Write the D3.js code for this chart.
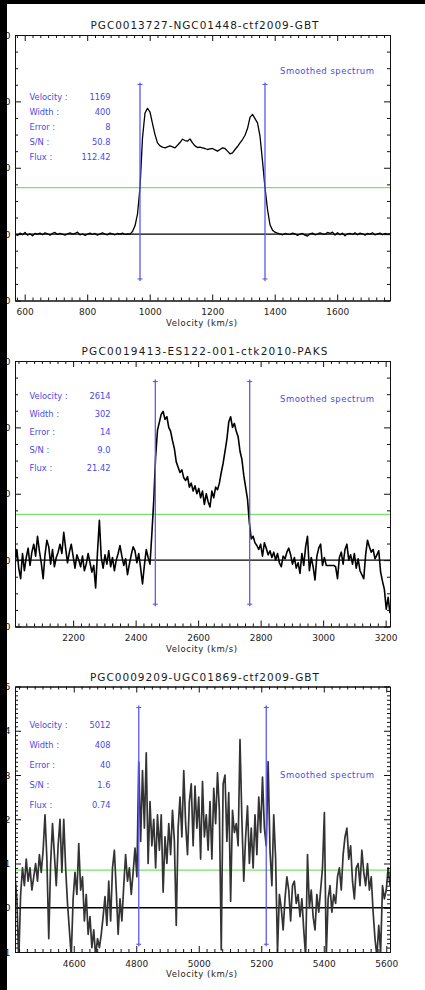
<!DOCTYPE html>
<html>
<head>
<meta charset="utf-8">
<script src="https://cdn.jsdelivr.net/npm/d3@7"></script>
<style>
  html, body { margin: 0; padding: 0; background: #fff; }
  svg { display: block; }
</style>
</head>
<body>
<svg id="chart" width="425" height="990"></svg>
<script>
// ---- spectra: channel start velocity (km/s), channel step (km/s), flux per channel ----
const titles = [
  "PGC0013727-NGC01448-ctf2009-GBT",
  "PGC0019413-ES122-001-ctk2010-PAKS",
  "PGC0009209-UGC01869-ctf2009-GBT"
];
const infoLabels = ["Velocity :", "Width :", "Error :", "S/N :", "Flux :"];
const velocities = [1169, 2614, 5012];
const widths = [400, 302, 408];
const errors = [8, 14, 40];
const snrs = ["50.8", "9.0", "1.6"];
const fluxes = ["112.42", "21.42", "0.74"];

const xRanges = [[569, 1769], [2014, 3214], [4412, 5612]];
const yRanges = [[-200, 600], [-50, 150], [-1, 5]];
const yMajorSteps = [200, 50, 1];
const yMinorSteps = [50, 12.5, 0.1];
const thresholds = [140, 34.5, 0.85];
const markerTops = [457, 136, 4.57];
const markerBottoms = [-141, -34.7, -0.87];

const chanStarts = [569, 2014, 4412];
const chanSteps = [8, 6, 6];

const spec1 = [
  2,-4,3,-2,5,-3,1,-5,2,0,
  3,-2,4,1,-3,2,5,-1,2,0,
  -3,1,4,0,2,6,-2,1,-4,0,
  3,-1,2,-3,1,4,0,-2,3,1,
  -2,2,0,3,-1,1,0,8,25,60,
  140,290,365,379,368,333,300,275,266,262,
  260,263,266,263,260,268,276,286,282,280,
  287,275,266,261,262,260,258,255,257,258,
  254,250,255,260,258,250,242,245,255,264,
  275,285,298,318,352,361,348,335,295,220,
  140,75,28,12,6,3,1,-2,2,0,
  -1,3,1,-4,0,2,-3,-6,1,3,
  -2,0,4,1,-1,5,2,6,-3,4,
  -2,3,-5,1,2,-1,4,-2,3,1,
  -3,2,0,4,-2,1,3,-2,2,0,1
];

const spec2 = [
  -3,8,-6,-14,5,-8,2,9,-4,6,
  12,3,18,7,-2,-14,4,15,10,-3,
  8,-5,2,6,12,5,21,9,-2,6,
  12,3,-6,4,0,-5,3,-8,-3,5,
  -2,-9,-4,-21,6,30,2,-6,4,-3,
  7,-5,2,-8,0,5,11,3,-4,1,
  -11,-3,4,10,7,-2,5,-6,-18,-4,
  8,2,-3,20,45,78,98,104,110,112,
  106,108,100,97,90,84,74,70,66,68,
  62,60,63,55,58,52,56,50,54,47,
  52,42,50,44,40,52,47,55,53,58,
  66,73,82,91,104,108,100,103,97,93,
  82,76,64,55,46,28,16,18,13,11,
  8,12,3,13,9,4,7,2,6,0,
  5,-2,-5,3,1,6,9,4,-3,2,
  -6,-2,-10,5,-4,10,18,-8,2,-5,
  -15,3,9,12,-4,2,-4,-4,-4,-4,
  -4,-5,-14,2,6,-3,8,12,0,4,
  -3,5,-6,1,-8,-11,-14,4,15,10,
  6,8,1,4,7,-9,-16,-22,-37,-28,
  -40
];

const spec3 = [
  0.7,0.2,-1.2,0.3,0.9,0.5,1.1,0.6,0.9,0.4,
  0.7,1.0,0.6,1.2,0.8,1.3,2.1,1.1,-0.7,1.0,
  1.9,1.2,0.5,1.4,2.0,0.8,2.0,0.9,0.1,-0.5,
  -1.1,0.2,0.8,0.3,1.45,0.4,0.7,-0.3,0.3,-0.6,
  -0.2,-0.9,-0.5,-1.1,-0.7,-0.9,-0.6,-0.2,0.25,-0.4,
  0.6,-0.3,0.9,1.3,0.4,-0.6,0.2,-0.3,0.5,1.2,
  0.6,0.9,0.3,0.8,1.35,0.7,3.3,1.5,3.1,1.8,
  3.5,1.0,2.4,1.4,2.0,0.9,2.1,1.3,2.1,0.35,
  1.6,1.0,1.9,1.2,2.2,1.5,-0.4,1.8,2.5,1.6,
  3.1,1.9,1.2,2.4,2.8,1.4,2.75,1.8,2.5,1.1,
  2.85,1.6,2.1,1.3,2.4,1.1,2.7,1.9,3.05,2.2,
  -0.95,2.8,3.0,1.5,2.6,0.15,2.2,1.7,1.9,1.4,
  3.8,2.0,0.6,1.6,2.3,1.0,1.8,0.9,2.1,1.2,
  2.5,1.7,2.95,1.8,1.4,3.3,1.3,0.5,2.1,1.1,
  -1.0,0.3,0.0,-0.5,0.2,0.7,0.4,-0.3,0.5,0.6,
  0.1,0.3,-0.2,0.2,-0.5,-1.1,1.2,0.0,0.4,-0.2,
  -0.5,0.3,-0.1,0.4,0.9,2.15,-1.1,0.2,0.5,-0.1,
  0.3,0.1,0.7,0.9,0.4,1.2,1.6,1.8,1.1,1.4,
  0.6,0.2,0.9,1.0,0.5,1.3,0.8,0.5,1.0,0.4,
  0.7,-0.1,-0.7,-1.1,-0.4,-1.0,0.5,0.2,0.4,0.9,
  0.5
];
const spectra = [spec1, spec2, spec3];

// ---- layout ----
const frameLeft = 15, frameRight = 390, frameH = 265.5;
const frameTops = [35, 361, 686.5];
const titleLengths = [228, 246, 229];
const infoFirst = [61.7, 34.7, 39];
const infoGap = [15, 18, 20];
const smoothedOffset = [35.7, 38, 89];
const specStroke = [{c: "#000", w: 1.3}, {c: "#000", w: 1.6}, {c: "#333", w: 1.7}];

const FONT = "DejaVu Sans, Verdana, sans-serif";
const BLUE = "#4a4ae8";
const BLUE_LINE = "#5a5af2";
const GREEN = "#78e26a";

const svg = d3.select("#chart");
svg.append("rect").attr("width", 425).attr("height", 990).attr("fill", "#fff");
const defs = svg.append("defs");

function styleAxis(sel, fontSize) {
  sel.attr("font-family", FONT).attr("font-size", fontSize);
  sel.selectAll("path.domain").attr("stroke", "#111").attr("stroke-width", 1);
  sel.selectAll(".tick line").attr("stroke", "#111").attr("stroke-width", 1);
  sel.selectAll(".tick text").attr("fill", "#222");
}

function stepRange(a, b, step) {
  const out = [];
  const k0 = Math.ceil(a / step - 1e-9), k1 = Math.floor(b / step + 1e-9);
  for (let k = k0; k <= k1; k++) out.push(+(k * step).toFixed(6));
  return out;
}

titles.forEach((title, p) => {
  const top = frameTops[p], bottom = top + frameH;
  const x = d3.scaleLinear().domain(xRanges[p]).range([frameLeft, frameRight]);
  const y = d3.scaleLinear().domain(yRanges[p]).range([bottom, top]);
  const g = svg.append("g");

  defs.append("clipPath").attr("id", "clip" + p)
    .append("rect").attr("x", frameLeft).attr("y", top)
    .attr("width", frameRight - frameLeft).attr("height", frameH);

  // reference levels: zero and detection threshold
  g.append("line").attr("x1", frameLeft).attr("x2", frameRight)
    .attr("y1", y(0)).attr("y2", y(0))
    .attr("stroke", "#000").attr("stroke-width", 1.3);
  g.append("line").attr("x1", frameLeft).attr("x2", frameRight)
    .attr("y1", y(thresholds[p])).attr("y2", y(thresholds[p]))
    .attr("stroke", GREEN).attr("stroke-width", 1.2);

  // spectrum
  const chans = spectra[p].map((f, i) => ({ v: chanStarts[p] + i * chanSteps[p], f }));
  const line = d3.line().x(d => x(d.v)).y(d => y(d.f));
  g.append("path").datum(chans)
    .attr("clip-path", `url(#clip${p})`)
    .attr("d", line)
    .attr("fill", "none")
    .attr("stroke", specStroke[p].c)
    .attr("stroke-width", specStroke[p].w)
    .attr("stroke-linejoin", "round");

  // line-width markers
  const edges = [velocities[p] - widths[p] / 2, velocities[p] + widths[p] / 2];
  edges.forEach(v => {
    const xv = x(v), yt = y(markerTops[p]), yb = y(markerBottoms[p]);
    g.append("line").attr("x1", xv).attr("x2", xv).attr("y1", yt).attr("y2", yb)
      .attr("stroke", BLUE_LINE).attr("stroke-width", 1.3);
    [yt + 2, yb - 2].forEach(yc => {
      g.append("line").attr("x1", xv - 2.5).attr("x2", xv + 2.5).attr("y1", yc).attr("y2", yc)
        .attr("stroke", BLUE_LINE).attr("stroke-width", 1.1);
    });
  });

  // axes (box with inward ticks)
  const xMajor = stepRange(xRanges[p][0], xRanges[p][1], 200);
  const xMinor = stepRange(xRanges[p][0], xRanges[p][1], 25).filter(v => v % 200 !== 0);
  const yMajor = stepRange(yRanges[p][0], yRanges[p][1], yMajorSteps[p]);
  const yMinor = stepRange(yRanges[p][0], yRanges[p][1], yMinorSteps[p])
    .filter(v => !yMajor.some(m => Math.abs(m - v) < 1e-6));

  const axB = g.append("g").attr("transform", `translate(0,${bottom})`)
    .call(d3.axisBottom(x).tickValues(xMajor).tickSizeInner(-6).tickSizeOuter(0)
      .tickPadding(8.4).tickFormat(d3.format("d")));
  styleAxis(axB, 9);
  const axBm = g.append("g").attr("transform", `translate(0,${bottom})`)
    .call(d3.axisBottom(x).tickValues(xMinor).tickSizeInner(-3).tickSizeOuter(0).tickFormat(""));
  styleAxis(axBm, 9);
  const axT = g.append("g").attr("transform", `translate(0,${top})`)
    .call(d3.axisTop(x).tickValues(xMajor).tickSizeInner(-6).tickSizeOuter(0).tickFormat(""));
  styleAxis(axT, 9);
  const axTm = g.append("g").attr("transform", `translate(0,${top})`)
    .call(d3.axisTop(x).tickValues(xMinor).tickSizeInner(-3).tickSizeOuter(0).tickFormat(""));
  styleAxis(axTm, 9);

  const axL = g.append("g").attr("transform", `translate(${frameLeft},0)`)
    .call(d3.axisLeft(y).tickValues(yMajor).tickSizeInner(-6).tickSizeOuter(0)
      .tickPadding(4.5).tickFormat(d3.format("d")));
  styleAxis(axL, 9.5);
  const axLm = g.append("g").attr("transform", `translate(${frameLeft},0)`)
    .call(d3.axisLeft(y).tickValues(yMinor).tickSizeInner(-3).tickSizeOuter(0).tickFormat(""));
  styleAxis(axLm, 9);
  const axR = g.append("g").attr("transform", `translate(${frameRight},0)`)
    .call(d3.axisRight(y).tickValues(yMajor).tickSizeInner(-6).tickSizeOuter(0).tickFormat(""));
  styleAxis(axR, 9);
  const axRm = g.append("g").attr("transform", `translate(${frameRight},0)`)
    .call(d3.axisRight(y).tickValues(yMinor).tickSizeInner(-3).tickSizeOuter(0).tickFormat(""));
  styleAxis(axRm, 9);

  // title and axis title
  g.append("text")
    .attr("x", 204.5).attr("y", top - 9.5).attr("dy", "0.35em")
    .attr("text-anchor", "middle")
    .attr("textLength", titleLengths[p]).attr("lengthAdjust", "spacing")
    .attr("font-family", FONT).attr("font-size", 10.5).attr("fill", "#1a1a1a")
    .text(title);
  g.append("text")
    .attr("x", 201.5).attr("y", bottom + 22.5).attr("dy", "0.35em")
    .attr("text-anchor", "middle")
    .attr("textLength", 71).attr("lengthAdjust", "spacing")
    .attr("font-family", FONT).attr("font-size", 8.5).attr("fill", "#222")
    .text("Velocity (km/s)");

  // fit summary
  const values = [String(velocities[p]), String(widths[p]), String(errors[p]), snrs[p], fluxes[p]];
  infoLabels.forEach((lab, k) => {
    const yy = top + infoFirst[p] + k * infoGap[p];
    g.append("text").attr("x", 29.5).attr("y", yy).attr("dy", "0.35em")
      .attr("font-family", FONT).attr("font-size", 8.3).attr("fill", BLUE)
      .text(lab);
    g.append("text").attr("x", 110.5).attr("y", yy).attr("dy", "0.35em")
      .attr("text-anchor", "end")
      .attr("font-family", FONT).attr("font-size", 8.3).attr("fill", BLUE)
      .text(values[k]);
  });
  g.append("text").attr("x", 280).attr("y", top + smoothedOffset[p]).attr("dy", "0.35em")
    .attr("textLength", 94).attr("lengthAdjust", "spacing")
    .attr("font-family", FONT).attr("font-size", 8.5).attr("fill", BLUE)
    .text("Smoothed spectrum");
});

// dark border along the left and top edges
svg.append("rect").attr("x", 0).attr("y", 0).attr("width", 7).attr("height", 990).attr("fill", "#000");
svg.append("rect").attr("x", 0).attr("y", 0).attr("width", 425).attr("height", 4).attr("fill", "#000");
</script>
</body>
</html>
